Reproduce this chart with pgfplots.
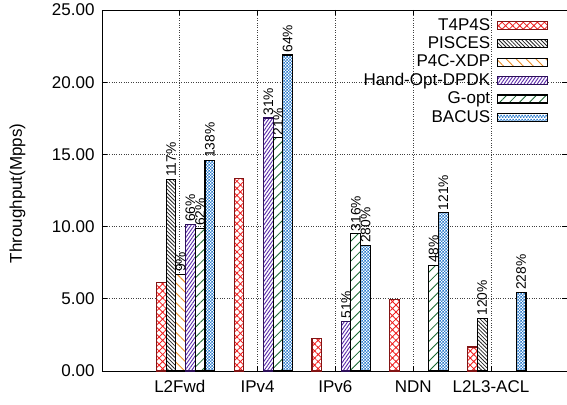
\documentclass[border=0pt]{standalone}
\usepackage{fontspec}
\setmainfont{Liberation Sans}
\usepackage{pgfplots}
\pgfplotsset{compat=1.18}
\usetikzlibrary{patterns,patterns.meta}
\definecolor{t4red}{RGB}{240,30,30}
\definecolor{t4edge}{RGB}{130,20,20}
\definecolor{p4orange}{RGB}{235,140,35}
\definecolor{hopurple}{RGB}{90,40,170}
\definecolor{hoedge}{RGB}{45,15,90}
\definecolor{ggreen}{RGB}{25,105,50}
\definecolor{bblue}{RGB}{45,125,205}

% small checkerboard for BACUS
\pgfdeclarepatternformonly{checker}{\pgfpointorigin}{\pgfpoint{3.4pt}{3.4pt}}{\pgfpoint{3.4pt}{3.4pt}}{%
  \pgfpathrectangle{\pgfpointorigin}{\pgfpoint{1.7pt}{1.7pt}}%
  \pgfpathrectangle{\pgfpoint{1.7pt}{1.7pt}}{\pgfpoint{1.7pt}{1.7pt}}%
  \pgfusepath{fill}}

\begin{document}
\begin{tikzpicture}
\useasboundingbox (-102pt,-33pt) rectangle (465pt,371pt);
\begin{axis}[
  scale only axis,
  width=465pt, height=361pt,
  xmin=-1, xmax=4.977, ymin=0, ymax=25,
  ybar, bar width=0.125, bar shift=0pt,
  xtick={0,1,2,3,4},
  xticklabels={L2Fwd,IPv4,IPv6,NDN,L2L3-ACL},
  ytick={0,5,10,15,20,25},
  font=\fontsize{17}{20}\selectfont,
  /pgf/number format/assume math mode=true,
  yticklabel style={xshift=-4pt, /pgf/number format/fixed,
    /pgf/number format/fixed zerofill, /pgf/number format/precision=2},
  xticklabel style={yshift=-6pt},
  ylabel={Throughput(Mpps)},
  y label style={at={(axis description cs:-0.182,0.492)}, anchor=center},
  grid=major,
  grid style={dotted, black!75, line width=0.6pt},
  tick align=inside, major tick length=5pt,
  axis line style={line width=0.9pt},
  every tick/.style={black, line width=0.8pt},
  legend plot pos=right,
  legend cell align=right,
  legend style={draw=none, fill=none, at={(1,1)}, anchor=north east,
    xshift=-19pt, yshift=-6pt, inner sep=0pt, column sep=5pt, row sep=0pt,
    nodes={inner sep=1.5pt, text height=12.4pt, text depth=3pt}},
  legend image code/.code={\draw[#1,/tikz/.cd] (0pt,-4pt) rectangle (50pt,4pt);},
  every node near coord/.append style={rotate=90, anchor=west, inner sep=2pt,
    font=\fontsize{13.8}{15}\selectfont, black},
]
% T4P4S
\addplot[draw=t4edge, line width=1.1pt, fill=white,
  postaction={pattern={Hatch[angle=45,distance=5pt,line width=0.85pt]}, pattern color=t4red}]
  coordinates {(-0.238,6.12) (0.762,13.32) (1.762,2.28) (2.762,4.96) (3.762,1.66)};
\addlegendentry{T4P4S}
% PISCES
\addplot[draw=black, line width=1.1pt, fill=white,
  postaction={pattern={Lines[angle=-45,distance=2.7pt,line width=0.8pt]}, pattern color=black!85},
  nodes near coords, point meta=explicit symbolic]
  coordinates {(-0.113,13.27)[117\%] (3.887,3.66)[120\%]};
\addlegendentry{PISCES}
% P4C-XDP
\addplot[draw=black, line width=1.1pt, fill=white,
  postaction={pattern={Lines[angle=-45,distance=7pt,line width=0.9pt]}, pattern color=p4orange},
  nodes near coords, point meta=explicit symbolic]
  coordinates {(0.012,6.69)[9\%]};
\addlegendentry{P4C-XDP}
% Hand-Opt-DPDK
\addplot[draw=hoedge, line width=1.1pt, fill=white,
  postaction={pattern={Lines[angle=55,distance=2.7pt,line width=0.9pt]}, pattern color=hopurple},
  nodes near coords, point meta=explicit symbolic]
  coordinates {(0.137,10.16)[66\%] (1.137,17.52)[31\%] (2.137,3.45)[51\%]};
\addlegendentry{Hand-Opt-DPDK}
% G-opt
\addplot[draw=black, line width=1.1pt, fill=white,
  postaction={pattern={Lines[angle=45,distance=7pt,line width=0.85pt]}, pattern color=ggreen},
  nodes near coords, point meta=explicit symbolic]
  coordinates {(0.262,9.88)[62\%] (1.262,16.14)[21\%] (2.262,9.50)[316\%] (3.262,7.32)[48\%]};
\addlegendentry{G-opt}
% BACUS
\addplot[draw=black, line width=1.1pt, fill=white,
  postaction={pattern=checker, pattern color=bblue},
  nodes near coords, point meta=explicit symbolic]
  coordinates {(0.387,14.59)[138\%] (1.387,21.88)[64\%] (2.387,8.70)[280\%] (3.387,10.95)[121\%] (4.387,5.45)[228\%]};
\addlegendentry{BACUS}
\end{axis}
\end{tikzpicture}
\end{document}
